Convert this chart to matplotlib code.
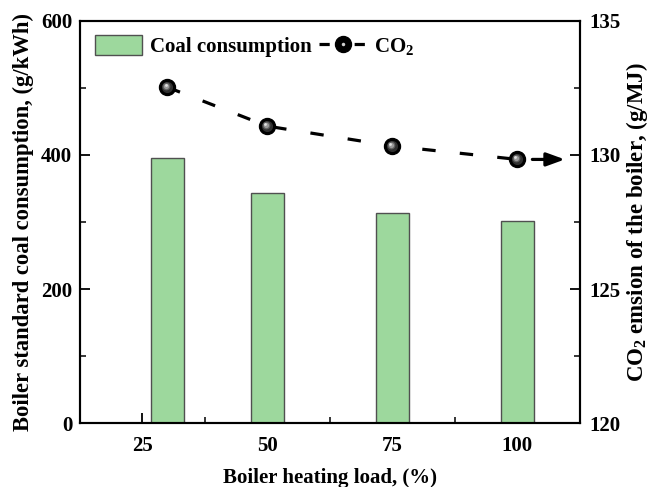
import numpy as np
import matplotlib
matplotlib.use('Agg')
import matplotlib.pyplot as plt
import matplotlib.transforms as mtransforms
from matplotlib.lines import Line2D
from matplotlib.ticker import MultipleLocator
from matplotlib.legend_handler import HandlerTuple

plt.rcParams['font.family'] = 'Liberation Serif'
plt.rcParams['font.weight'] = 'bold'
plt.rcParams['mathtext.fontset'] = 'custom'
plt.rcParams['mathtext.rm'] = 'Liberation Serif:bold'
plt.rcParams['mathtext.it'] = 'Liberation Serif:bold'
plt.rcParams['mathtext.bf'] = 'Liberation Serif:bold'

# data
load_pos = [30, 50, 75, 100]
load_ticks = [25, 50, 75, 100]
coal = [395, 343, 313, 302]
co2 = [132.52, 131.07, 130.33, 129.83]

bar_color = '#9dd89d'

fig = plt.figure(figsize=(6.53, 4.87), dpi=100)
ax = fig.add_axes([0.1225, 0.131, 0.7655, 0.8265])
ax2 = ax.twinx()

bars = ax.bar(load_pos, coal, width=6.5, color=bar_color, edgecolor='#505050',
              linewidth=1.0, zorder=2)

ax.set_xlim(12.5, 112.5)
ax.set_ylim(0, 600)
ax2.set_ylim(120, 135)

line, = ax2.plot(load_pos, co2, color='black', lw=2.3, dashes=(4.2, 7.6),
                 marker='o', markersize=11.5, markerfacecolor='black',
                 markeredgecolor='black', zorder=3)

# sphere shading on the markers
shades = [('#303030', 8), ('#606060', 5.6), ('#9a9a9a', 3.8), ('#e0e0e0', 2.0)]
for i, (c, s) in enumerate(shades):
    off = mtransforms.ScaledTranslation(-0.35 * (i + 1) / 72, 0.35 * (i + 1) / 72, fig.dpi_scale_trans)
    ax2.plot(load_pos, co2, linestyle='none', marker='o', markersize=s,
             markerfacecolor=c, markeredgewidth=0,
             transform=ax2.transData + off, zorder=4)

# arrow pointing to the right axis
ax2.annotate('', xy=(ax.get_xlim()[1] - 3, co2[-1]), xytext=(load_pos[-1] + 3, co2[-1]),
             arrowprops=dict(arrowstyle='-|>,head_length=1.1,head_width=0.4',
                             color='black', lw=2.3, shrinkA=0, shrinkB=0))

ax.set_xticks(load_ticks)
ax.xaxis.set_minor_locator(MultipleLocator(12.5))
ax.yaxis.set_major_locator(MultipleLocator(200))
ax.yaxis.set_minor_locator(MultipleLocator(100))
ax2.yaxis.set_major_locator(MultipleLocator(5))
ax2.yaxis.set_minor_locator(MultipleLocator(2.5))

for a in (ax, ax2):
    for sp in a.spines.values():
        sp.set_linewidth(1.5)
ax.tick_params(axis='both', which='major', direction='in', length=7, width=1.3,
               labelsize=15)
ax.tick_params(axis='x', pad=9)
ax.tick_params(axis='y', pad=5.5)
ax.tick_params(axis='both', which='minor', direction='in', length=4, width=1.1)
ax.tick_params(axis='y', right=False)
ax2.tick_params(axis='y', which='major', direction='in', length=7, width=1.3,
                labelsize=15, pad=7)
ax2.tick_params(axis='y', which='minor', direction='in', length=4, width=1.1)

ax.set_xlabel('Boiler heating load, (%)', fontsize=15, fontweight='bold', labelpad=9)
ax.set_ylabel('Boiler standard coal consumption, (g/kWh)', fontsize=16.3,
              fontweight='bold', labelpad=5)
ax2.set_ylabel('CO$_2$ emsion of the boiler, (g/MJ)', fontsize=16.5,
               fontweight='bold', labelpad=2)

leg_line = Line2D([], [], color='black', lw=2.3, dashes=(3.2, 7.8), marker='o',
                  markersize=11.5, markerfacecolor='black', markeredgecolor='black')
leg_hl = Line2D([], [], linestyle='none', marker='o', markersize=2.5,
                markerfacecolor='#d0d0d0', markeredgewidth=0)
ax2.legend([bars, (leg_line, leg_hl)], ['Coal consumption', 'CO$_2$'],
           handler_map={tuple: HandlerTuple(ndivide=1)},
           loc='upper left', ncol=2, frameon=False, fontsize=15,
           handlelength=2.3, handleheight=1.1, handletextpad=0.35,
           columnspacing=0.35, borderaxespad=0.3, bbox_to_anchor=(0.0, 1.0))

fig.savefig('out.png', dpi=100)
